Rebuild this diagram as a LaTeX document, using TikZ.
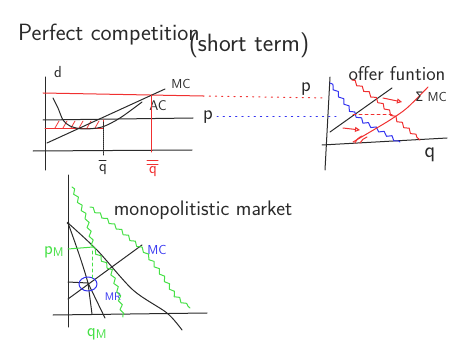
\documentclass[tikz,border=0pt]{standalone}
\usepackage{fontspec}
\newfontfamily\skSym{DejaVu Sans}
\usetikzlibrary{arrows.meta,calc,decorations.pathmorphing}
\definecolor{skInk}{HTML}{2A2A2A}
\definecolor{skRed}{HTML}{F03030}
\definecolor{skBlue}{HTML}{3434F0}
\definecolor{skGreen}{HTML}{46E046}
\newcommand{\skLineW}{1.0pt}
\newcommand{\skLineWthin}{0.8pt}
\newcommand{\skSize}[1]{\sffamily\fontsize{#1}{#1}\selectfont}
\tikzset{
  ink/.style={skInk, line width=\skLineW},
  redink/.style={skRed, line width=\skLineW},
  blueink/.style={skBlue, line width=\skLineW},
  greenink/.style={skGreen, line width=\skLineW},
  wavy/.style={decorate, decoration={snake, amplitude=1.6pt, segment length=9pt}},
  handlbl/.style={inner sep=0pt},
}
\begin{document}
\begin{tikzpicture}[x=1pt, y=-1pt, line cap=round, line join=round]
  \useasboundingbox (0,0) rectangle (461,361);

  % ===== Titles =====
  \node[handlbl, font=\skSize{23.5}, skInk, anchor=base west] (title) at (18,41) {Perfect competition};
  \node[handlbl, font=\skSize{25}, skInk] (subtitle) at (249,45) {(short term)};

  % ===== Top left: single firm =====
  \draw[ink] (45,77) -- (45,170);
  \draw[ink] (33,151) -- (192,150);
  \node[handlbl, font=\skSize{16}, skInk] (dLbl) at (58,72) {d};

  % price lines
  \draw[redink] (43,93) -- (203,96) coordinate (redEnd);
  \draw[ink] (43,120) -- (193,118);
  \node[handlbl, font=\skSize{20}, skInk] (pLbl) at (208,117) {p};

  % loss area
  \draw[redink] (45,128) -- (103,128) -- (103,120);
  \foreach \x in {55,63,71,79,87,95} {
    \draw[skRed, line width=\skLineWthin] (\x,128) -- (\x+4,121);
  }

  % cost curves
  \draw[ink] (47,143) -- (165,89);
  \node[handlbl, font=\skSize{13}, skInk] (mcTop) at (181,84) {MC};
  \draw[ink] plot[smooth] coordinates {(53,98) (58,108) (63,120) (70,126) (83,129) (102,127) (120,118) (142,102)};
  \node[handlbl, font=\skSize{14}, skInk] (acLbl) at (158,106) {AC};

  % quantities
  \draw[ink, densely dotted] (103,122) -- (103,156);
  \node[handlbl, font=\skSize{16}, skInk] (qBar) at (103,170) {q};
  \draw[ink] (99,160) -- (106,160);
  \draw[redink] (151,95) -- (151,152);
  \node[handlbl, font=\skSize{16}, skRed] (qBarBar) at (153,172) {q};
  \draw[redink] (147,160) -- (158,160);
  \draw[redink] (147,164) -- (158,164);

  % ===== Links to the market =====
  \coordinate (redTip) at (325,98);
  \coordinate (blueTip) at (336,117);
  \draw[skRed, line width=\skLineW, dash pattern=on 1.2pt off 5pt] (redEnd) -- (redTip);
  \draw[skBlue, line width=\skLineW, dash pattern=on 1.2pt off 5pt] (pLbl.east) ++(4,0) -- (blueTip);

  % ===== Top right: market =====
  \draw[ink] (330,77) -- (325,170);
  \draw[ink] (322,145) -- (447,138);
  \node[handlbl, font=\skSize{20}, skInk] (pRight) at (306,89) {p};
  \node[handlbl, font=\skSize{22}, skInk] (qRight) at (430,155) {q};
  \node[handlbl, font=\skSize{20}, skInk] (offerLbl) at (397,74) {offer funtion};

  \draw[ink] (330,132) -- (392,88);
  \draw[blueink, wavy] (330,83) -- (348,107) -- (363,120) -- (390,135) -- (400,142);
  \draw[redink, wavy] (352,80) -- (377,100) -- (397,120) -- (420,140);
  \draw[redink] plot[smooth] coordinates {(353,142) (370,132) (390,120) (407,108) (428,87)};
  \draw[redink] (355,143) to[bend left=20] (362,136);
  \draw[redink] (360,143) to[bend left=20] (367,137);
  \draw[redink, dashed] (353,115) -- (392,115);

  \draw[redink, -{Triangle[open, length=5pt, width=5pt]}] (343,128) -- (360,130);
  \draw[redink, -{Triangle[open, length=5pt, width=5pt]}] (383,98) -- (402,102);
  \node[handlbl, font=\skSize{13}, skInk] (sumMc) at (431,97) {{\skSym\fontsize{13}{13}\selectfont Σ} MC};

  % ===== Bottom: monopolistic market =====
  \node[handlbl, font=\skSize{21}, skInk] (monoLbl) at (203,210) {monopolitistic market};
  \draw[ink] (68,175) -- (68,327);
  \draw[ink] (53,315) -- (207,313);

  % demand and marginal revenue
  \fill[skInk] (68,223) circle (1.3);
  \draw[ink] plot[smooth] coordinates {(68,223) (97,250) (133,290) (167,313) (182,330)};
  \draw[ink] (68,223) .. controls (76,245) and (83,265) .. (88,283) -- (105,318);
  \draw[ink] (88,283) -- (92,314);
  \draw[ink] (68,282) -- (88,283);
  \node[handlbl, font=\skSize{11}, skBlue] (mrLbl) at (113,297) {MR};

  % marginal cost
  \draw[ink] (68,299) -- (142,245);
  \node[handlbl, font=\skSize{13}, skBlue] (mcBottom) at (157,250) {MC};
  \draw[blueink] (88,284) ellipse (9 and 7);

  % monopoly price and quantity
  \draw[greenink] (68,249) -- (93,247);
  \draw[greenink, dashed] (92,251) -- (92,278);
  \node[handlbl, font=\skSize{18}, skGreen] (pmLbl) at (54,252) {p\textsubscript{M}};
  \node[handlbl, font=\skSize{18}, skGreen] (qmLbl) at (97,334) {q\textsubscript{M}};

  % green shifted curves
  \draw[greenink, wavy] (72,187) -- (85,215) -- (92,245) -- (110,267) -- (118,290) -- (123,317);
  \draw[greenink, wavy] (90,207) -- (120,230) -- (143,250) -- (160,273) -- (173,293) -- (190,308);
\end{tikzpicture}
\end{document}
